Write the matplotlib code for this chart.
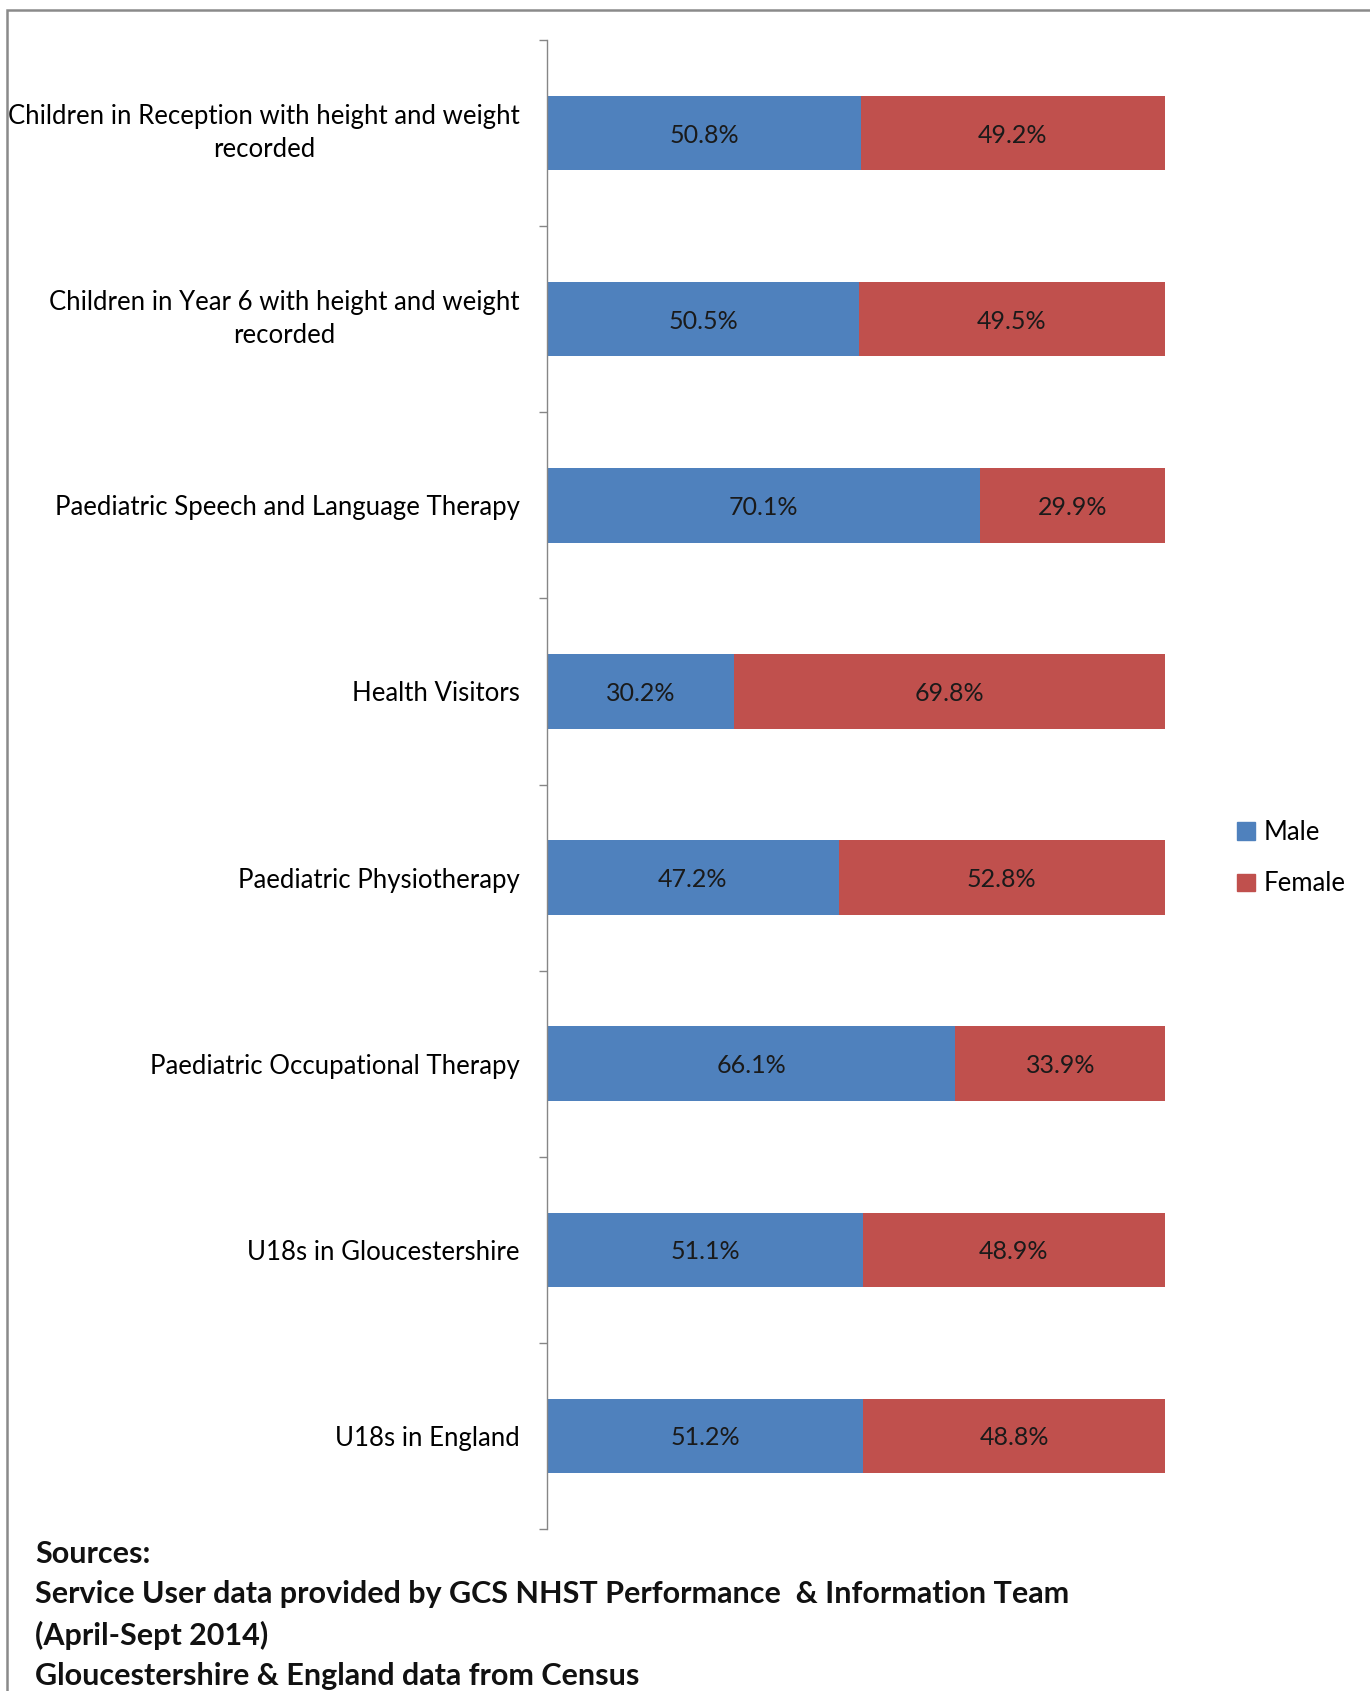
import matplotlib
matplotlib.use("Agg")
import matplotlib.pyplot as plt
from matplotlib.patches import Rectangle, Patch
import numpy as np

categories = [
    "Children in Reception with height and weight\nrecorded",
    "Children in Year 6 with height and weight\nrecorded",
    "Paediatric Speech and Language Therapy",
    "Health Visitors",
    "Paediatric Physiotherapy",
    "Paediatric Occupational Therapy",
    "U18s in Gloucestershire",
    "U18s in England",
]
male = [50.8, 50.5, 70.1, 30.2, 47.2, 66.1, 51.1, 51.2]
female = [49.2, 49.5, 29.9, 69.8, 52.8, 33.9, 48.9, 48.8]
series_names = ["Male", "Female"]
source_lines = [
    "Sources:",
    "Service User data provided by GCS NHST Performance  & Information Team",
    "(April-Sept 2014)",
    "Gloucestershire & England data from Census",
]

MALE_C = "#4F81BD"
FEMALE_C = "#C0504D"
FONT = "Lato"

W, H = 1370, 1691
fig = plt.figure(figsize=(W / 100, H / 100), dpi=100)

# outer frame (cut off at right and bottom)
fig.patches.append(Rectangle((7 / W, -0.05), 1.2, 1 - 10 / H + 0.05,
                             transform=fig.transFigure, fill=False,
                             edgecolor="#8a8a8a", linewidth=1.8))

ax = fig.add_axes([547 / W, 1 - 1529 / H, (1165 - 547) / W, (1529 - 40) / H])
y = np.arange(len(categories))
m = np.array(male) / 100
f = np.array(female) / 100
ax.barh(y, m, height=0.4, color=MALE_C, label=series_names[0])
ax.barh(y, f, left=m, height=0.4, color=FEMALE_C, label=series_names[1])

for i in range(len(categories)):
    ax.text(m[i] / 2, y[i], f"{male[i]:.1f}%", ha="center", va="center_baseline",
            fontsize=18, family=FONT, color="#1a1a1a")
    ax.text(m[i] + f[i] / 2, y[i], f"{female[i]:.1f}%", ha="center",
            va="center_baseline", fontsize=18, family=FONT, color="#1a1a1a")

ax.set_xlim(0, 1)
ax.set_ylim(len(categories) - 0.5, -0.5)
ax.set_xticks([])
ax.set_yticks(np.arange(-0.5, len(categories), 1.0))
ax.set_yticklabels([])
ax.set_yticks(y, minor=True)
labels = ax.set_yticklabels(categories, minor=True, fontsize=18.5, family=FONT,
                            multialignment="center", linespacing=1.4)
for lab in labels:
    if "\n" in lab.get_text():
        lab.set_verticalalignment("center")
ax.tick_params(axis="y", which="major", length=5.5, color="#868686", width=1)
ax.tick_params(axis="y", which="minor", length=0, pad=19.5)
for s in ["top", "right", "bottom"]:
    ax.spines[s].set_visible(False)
ax.spines["left"].set_color("#868686")
ax.spines["left"].set_linewidth(1)
ax.patch.set_alpha(0)

handles = [Patch(color=MALE_C), Patch(color=FEMALE_C)]
fig.legend(handles, series_names, loc="center left",
           bbox_to_anchor=(1214 / W, 1 - 858 / H), frameon=False,
           prop={"family": FONT, "size": 18.5}, handlelength=0.7,
           handleheight=0.7, handletextpad=0.35, labelspacing=1.05)

for k, line in enumerate(source_lines):
    fig.text(35 / W, 1 - (1554 + 40.5 * k) / H, line, ha="left", va="center",
             fontsize=22, family=FONT, fontweight="bold", color="#111111")

fig.savefig("out.png", dpi=100, facecolor="white")
